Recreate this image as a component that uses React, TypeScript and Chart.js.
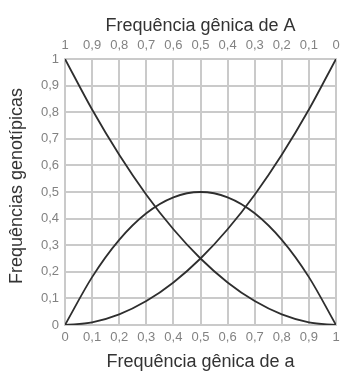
import React, { useEffect, useRef } from "react";
import { Chart, registerables } from "chart.js";

Chart.register(...registerables);

// Frequência gênica de a (q)
const freqA_small = [0, 0.1, 0.2, 0.3, 0.4, 0.5, 0.6, 0.7, 0.8, 0.9, 1];
// AA (p²)
const homoDominant = [1, 0.81, 0.64, 0.49, 0.36, 0.25, 0.16, 0.09, 0.04, 0.01, 0];
// aa (q²)
const homoRecessive = [0, 0.01, 0.04, 0.09, 0.16, 0.25, 0.36, 0.49, 0.64, 0.81, 1];
// Aa (2pq)
const hetero = [0, 0.18, 0.32, 0.42, 0.48, 0.5, 0.48, 0.42, 0.32, 0.18, 0];

const xTitleBottom = "Frequência gênica de a";
const xTitleTop = "Frequência gênica de A";
const yTitle = "Frequências genotípicas";

const FONT = "'Liberation Sans', Arial, sans-serif";

const fmt = (v: number) => {
  const r = Math.round(v * 10) / 10;
  if (r === 0) return "0";
  if (r === 1) return "1";
  return r.toFixed(1).replace(".", ",");
};

const yTitlePlugin = {
  id: "yTitlePlugin",
  afterDraw(chart: any) {
    const ctx = chart.ctx;
    ctx.save();
    ctx.translate(17, 186);
    ctx.rotate(-Math.PI / 2);
    ctx.font = `18px ${FONT}`;
    ctx.fillStyle = "#333";
    ctx.textAlign = "center";
    ctx.textBaseline = "middle";
    ctx.fillText(yTitle, 0, 0);
    ctx.restore();
  },
};

export default function App() {
  const ref = useRef<HTMLCanvasElement | null>(null);
  useEffect(() => {
    if (!ref.current) return;
    const mk = (vals: number[]) => freqA_small.map((x, i) => ({ x, y: vals[i] }));
    const lineStyle = {
      borderColor: "#2e2e2e",
      borderWidth: 1.8,
      pointRadius: 0,
      cubicInterpolationMode: "monotone" as const,
      fill: false,
    };
    const tickFont = { family: FONT, size: 13 };
    const titleFont = { family: FONT, size: 18 };
    const chart = new Chart(ref.current, {
      type: "line",
      data: {
        datasets: [
          { data: mk(homoDominant), ...lineStyle },
          { data: mk(homoRecessive), ...lineStyle },
          { data: mk(hetero), ...lineStyle },
        ],
      },
      plugins: [yTitlePlugin],
      options: {
        animation: false,
        responsive: false,
        maintainAspectRatio: false,
        layout: { padding: { left: 0, right: 15, top: 0, bottom: 0 } },
        plugins: { legend: { display: false }, tooltip: { enabled: false } },
        scales: {
          x: {
            type: "linear",
            position: "bottom",
            min: 0,
            max: 1,
            afterFit: (s: any) => { s.height = 53; },
            ticks: { stepSize: 0.1, color: "#828282", font: tickFont, padding: 5, maxRotation: 0, autoSkip: false, callback: (v: any) => fmt(Number(v)) },
            grid: { color: "#cacaca", lineWidth: 2, drawTicks: false },
            border: { color: "#cacaca", width: 2 },
            title: { display: true, text: xTitleBottom, color: "#333", font: titleFont, padding: { top: 0, bottom: 5 } },
          },
          x2: {
            type: "linear",
            position: "top",
            min: 0,
            max: 1,
            reverse: true,
            afterFit: (s: any) => { s.height = 59; },
            ticks: { stepSize: 0.1, color: "#828282", font: tickFont, padding: 6, maxRotation: 0, autoSkip: false, callback: (v: any) => fmt(Number(v)) },
            grid: { display: false, drawTicks: false },
            border: { color: "#cacaca", width: 2 },
            title: { display: true, text: xTitleTop, color: "#333", font: titleFont, padding: { top: 15, bottom: 0 } },
          },
          y: {
            type: "linear",
            min: 0,
            max: 1,
            afterFit: (s: any) => { s.width = 65; },
            ticks: { stepSize: 0.1, color: "#828282", font: tickFont, padding: 6, autoSkip: false, callback: (v: any) => fmt(Number(v)) },
            grid: { color: "#cacaca", lineWidth: 2, drawTicks: false },
            border: { color: "#cacaca", width: 2 },
            title: { display: false },
          },
        },
      },
    });
    return () => chart.destroy();
  }, []);
  return (
    <div style={{ position: "fixed", left: 0, top: 0, width: 351, height: 378, background: "#fff" }}>
      <canvas ref={ref} width={351} height={378} style={{ width: 351, height: 378 }} />
    </div>
  );
}
